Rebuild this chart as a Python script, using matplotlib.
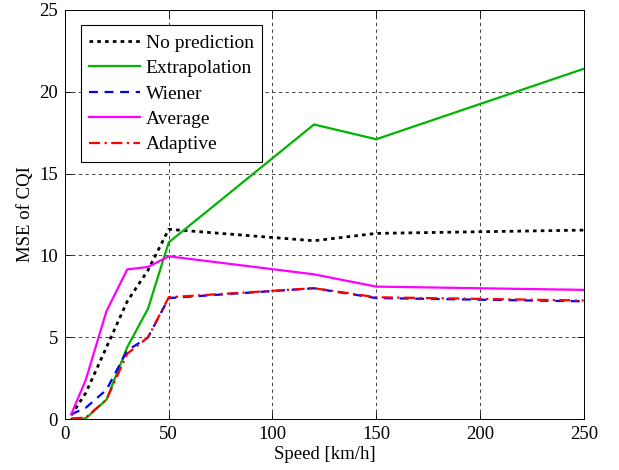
import matplotlib
matplotlib.use('Agg')
import matplotlib.pyplot as plt

plt.rcParams['font.family'] = ['Liberation Serif', 'DejaVu Serif']
plt.rcParams['mathtext.fontset'] = 'stix'

speed = [3, 10, 20, 30, 40, 50, 120, 150, 250]

no_prediction = [0.25, 1.6, 4.4, 7.2, 9.1, 11.6, 10.9, 11.35, 11.55]
extrapolation = [0.0, 0.05, 1.2, 4.4, 6.75, 10.8, 18.0, 17.1, 21.4]
wiener = [0.3, 0.7, 1.8, 4.2, 5.0, 7.4, 8.0, 7.4, 7.2]
average = [0.3, 2.4, 6.6, 9.15, 9.3, 9.95, 8.85, 8.1, 7.9]
adaptive = [0.05, 0.1, 1.2, 4.0, 5.0, 7.45, 8.0, 7.45, 7.25]

x_ticks = [0, 50, 100, 150, 200, 250]
y_ticks = [0, 5, 10, 15, 20, 25]

fig = plt.figure(figsize=(6.19, 4.7), dpi=100)
ax = fig.add_axes([0.105, 0.108, 0.838, 0.871])

ax.plot(speed, no_prediction, ':', color='black', lw=2, dashes=(1.3, 1.5), label='No prediction')
ax.plot(speed, extrapolation, '-', color='#00b400', lw=1.6, label='Extrapolation')
ax.plot(speed, wiener, '--', color='blue', lw=1.6, dashes=(4, 3), label='Wiener')
ax.plot(speed, average, '-', color='magenta', lw=1.6, label='Average')
ax.plot(speed, adaptive, '-.', color='red', lw=1.6, dashes=(5, 2, 1, 2), label='Adaptive')

ax.set_xlim(0, 250)
ax.set_ylim(0, 25)
ax.set_xticks(x_ticks)
ax.set_yticks(y_ticks)
ax.tick_params(direction='in', top=True, right=True, labelsize=13.5, length=5, width=0.6, pad=5)
ax.grid(True, color='#222222', linestyle=(0, (4, 4)), lw=0.6)
for s in ax.spines.values():
    s.set_linewidth(0.7)

ax.set_xlabel('Speed [km/h]', fontsize=13.5, labelpad=2)
ax.set_ylabel('MSE of CQI', fontsize=13.5, labelpad=4)

leg = ax.legend(loc='upper left', fontsize=14, fancybox=False, framealpha=1,
                edgecolor='black', handlelength=2.6, borderaxespad=0.8,
                labelspacing=0.4, borderpad=0.45, handletextpad=0.3)
leg.get_frame().set_linewidth(0.8)

plt.savefig('out.png', dpi=100)
